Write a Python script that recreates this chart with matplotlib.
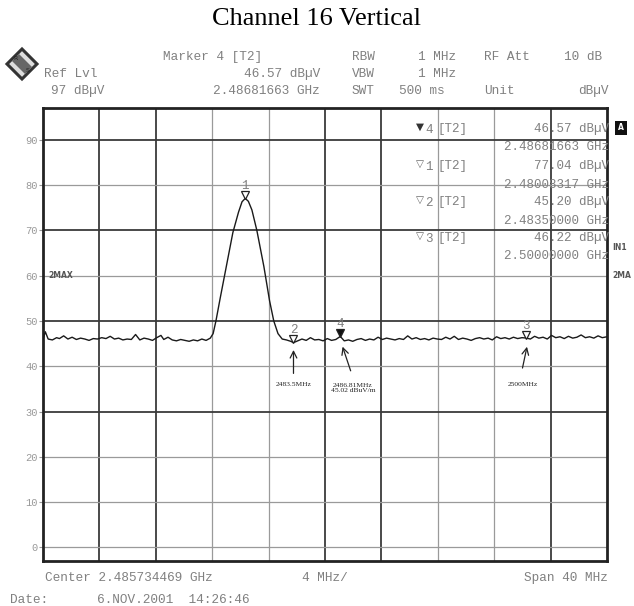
import numpy as np
import matplotlib
matplotlib.use("Agg")
import matplotlib.pyplot as plt
from matplotlib.patches import Polygon
from matplotlib import transforms

# Analyzer settings
center_mhz = 2485.734469
span_mhz = 40.0
ref_level = 97
y_ticks = [0, 10, 20, 30, 40, 50, 60, 70, 80, 90]

# Trace (MHz, dBuV)
trace_freq_mhz = [
    2465.73, 2465.9, 2466.1, 2466.4, 2466.7, 2466.9, 2467.2, 2467.5, 2467.8, 2468.1,
    2468.4, 2468.7, 2469.0, 2469.3, 2469.6, 2469.9, 2470.2, 2470.5, 2470.8, 2471.1,
    2471.4, 2471.7, 2472.0, 2472.3, 2472.6, 2472.9, 2473.2, 2473.5, 2473.8, 2474.1,
    2474.3, 2474.6, 2474.9, 2475.2, 2475.5, 2475.8, 2476.1, 2476.4, 2476.7, 2477.0,
    2477.3, 2477.6, 2477.8, 2478.0, 2478.3, 2478.7, 2479.2, 2479.6, 2479.85, 2480.08,
    2480.3, 2480.55, 2480.9, 2481.4, 2481.8, 2482.1, 2482.4, 2482.7, 2483.0, 2483.3,
    2483.5, 2483.8, 2484.1, 2484.4, 2484.7, 2485.0, 2485.3, 2485.6, 2485.9, 2486.2,
    2486.5, 2486.82, 2487.1, 2487.4, 2487.7, 2488.0, 2488.3, 2488.6, 2488.9, 2489.2,
    2489.5, 2489.8, 2490.1, 2490.4, 2490.7, 2491.0, 2491.3, 2491.6, 2491.9, 2492.2,
    2492.5, 2492.8, 2493.1, 2493.4, 2493.7, 2494.0, 2494.3, 2494.6, 2494.9, 2495.2,
    2495.5, 2495.8, 2496.1, 2496.4, 2496.7, 2497.0, 2497.3, 2497.6, 2497.9, 2498.2,
    2498.5, 2498.8, 2499.1, 2499.4, 2499.7, 2500.0, 2500.3, 2500.6, 2500.9, 2501.2,
    2501.5, 2501.8, 2502.1, 2502.4, 2502.7, 2503.0, 2503.3, 2503.6, 2503.9, 2504.2,
    2504.5, 2504.8, 2505.1, 2505.4, 2505.73,
]
trace_level_dbuv = [
    45.9, 47.6, 46.0, 45.8, 46.3, 46.1, 46.7, 46.0, 46.4, 45.9,
    46.2, 46.0, 45.7, 46.1, 46.0, 46.3, 46.1, 46.6, 46.0, 46.2,
    45.8, 46.0, 45.9, 47.0, 45.8, 46.2, 46.0, 45.7, 46.3, 46.8,
    45.9, 46.4, 45.8, 45.6, 45.9, 45.7, 45.5, 45.8, 45.6, 46.0,
    45.7, 46.2, 47.2, 50.0, 55.0, 61.5, 69.5, 74.0, 76.3, 77.04,
    76.4, 74.5, 70.0, 62.0, 54.5, 50.0, 47.2, 46.0, 45.8, 45.5,
    45.2, 45.6, 46.0, 45.7, 46.3, 45.8, 45.9, 45.6, 46.1, 45.7,
    45.9, 46.57, 45.6, 45.8, 45.5, 45.9, 46.1, 45.7, 46.0, 45.8,
    46.4, 45.9, 46.2, 46.0, 45.8, 46.1, 45.9, 46.7, 46.0, 46.3,
    45.9, 46.1, 45.8, 46.2, 46.0, 45.9, 46.4, 46.0, 46.6, 45.9,
    46.2, 46.0, 45.7, 46.1, 46.3, 46.0, 46.2, 45.8, 46.5, 46.1,
    46.3, 46.0, 46.4, 46.1, 46.3, 46.22, 46.0, 46.6, 46.2, 46.4,
    46.0, 46.8, 46.3, 46.5, 46.1, 46.6, 46.2, 46.4, 46.9, 46.3,
    46.5, 46.2, 46.7, 46.3, 46.5,
]

# Markers
marker_ids = ["1", "2", "3", "4"]
marker_freq_mhz = [2480.08317, 2483.5, 2500.0, 2486.81663]
marker_level_dbuv = [77.04, 45.20, 46.22, 46.57]

W, H = 634, 606
GRAY = "#808080"
MONO = "Liberation Mono"


def px(x, y):
    return x / W, 1 - y / H


fig = plt.figure(figsize=(W / 100, H / 100), dpi=100)
ax = fig.add_axes([43 / W, (H - 561) / H, (607 - 43) / W, (561 - 108) / H])

f_start = center_mhz - span_mhz / 2
ax.set_xlim(f_start, f_start + span_mhz)
ax.set_ylim(ref_level - 100, ref_level)

# grid: the scanned screen shows a mix of dark and light lines
v_dark = [1, 2, 5, 6, 9]
for i in range(1, 10):
    dark = i in v_dark
    ax.axvline(f_start + i * span_mhz / 10, color="#3a3a3a" if dark else "#9a9a9a",
               lw=1.3 if dark else 0.9, zorder=1)
h_dark = [90, 70, 50, 30]
for yv in y_ticks:
    dark = yv in h_dark
    ax.axhline(yv, color="#3a3a3a" if dark else "#9a9a9a",
               lw=1.3 if dark else 0.9, zorder=1)

ax.plot(trace_freq_mhz, trace_level_dbuv, color="#1a1a1a", lw=1.0, zorder=3)

for s in ax.spines.values():
    s.set_linewidth(2.0)
    s.set_color("#222222")
ax.set_xticks([])
ax.set_yticks(y_ticks)
ax.set_yticklabels([str(v) for v in y_ticks], fontsize=7.5, color="#999999", family=MONO)
ax.tick_params(axis="y", length=3, width=0.8, color="#999999", pad=1)

# marker triangles
tri_off = transforms.offset_copy(ax.transData, fig=fig, y=2.5, units="points")
num_off = transforms.offset_copy(ax.transData, fig=fig, y=9, units="points")
for mid, f, lvl in zip(marker_ids, marker_freq_mhz, marker_level_dbuv):
    filled = mid == "4"
    ax.plot([f], [lvl], marker="v", ms=5.5, mfc="#111111" if filled else "white",
            mec="#222222", mew=0.9, transform=tri_off, zorder=4, clip_on=False)
    ax.text(f, lvl, mid, transform=num_off, ha="center", va="center",
            fontsize=9, color=GRAY, family=MONO, zorder=4)

# hand-drawn arrows and notes under markers 2, 4, 3
notes = {
    "2": ((0.0, 44.2), (0.0, 37.8), (0.0, 36.6), "2483.5MHz"),
    "4": ((0.1, 44.9), (0.8, 38.4), (0.9, 36.2), "2486.81MHz\n45.02 dBuV/m"),
    "3": ((0.1, 44.9), (-0.3, 39.0), (-0.25, 36.5), "2500MHz"),
}
for mid, f in zip(marker_ids, marker_freq_mhz):
    if mid not in notes:
        continue
    (dxt, yt), (dxs, ys), (dxl, yl), label = notes[mid]
    ax.annotate("", xy=(f + dxt, yt), xytext=(f + dxs, ys),
                arrowprops=dict(arrowstyle="->", lw=0.9, color="#222222",
                                mutation_scale=12), zorder=5)
    ax.text(f + dxl, yl, label, ha="center", va="top", fontsize=5.4,
            family="Liberation Serif", color="#222222", linespacing=1.0)

# marker table inside the screen
table_rows = [
    ("▼", "4", "46.57 dBµV", "2.48681663 GHz", 129),
    ("▽", "1", "77.04 dBµV", "2.48008317 GHz", 166),
    ("▽", "2", "45.20 dBµV", "2.48350000 GHz", 202),
    ("▽", "3", "46.22 dBµV", "2.50000000 GHz", 238),
]
for sym, num, lvl_txt, f_txt, yy in table_rows:
    fig.text(*px(420, yy - 2), sym, fontsize=7.5, color="#333333" if sym == "▼" else "#666666",
             ha="center", va="center", family="DejaVu Sans")
    fig.text(*px(425, yy + 1), num, fontsize=9, color=GRAY, ha="left", va="center", family=MONO)
    fig.text(*px(437, yy), "[T2]", fontsize=9, color=GRAY, ha="left", va="center", family=MONO)
    fig.text(*px(609, yy), lvl_txt, fontsize=9, color=GRAY, ha="right", va="center", family=MONO)
    fig.text(*px(609, yy + 18.5), f_txt, fontsize=9, color=GRAY, ha="right", va="center", family=MONO)

# header
hdr = dict(fontsize=9.2, color=GRAY, family=MONO, va="center")
fig.text(*px(163, 57), "Marker 4 [T2]", ha="left", **hdr)
fig.text(*px(44, 74), "Ref Lvl", ha="left", **hdr)
fig.text(*px(320, 74), "46.57 dBµV", ha="right", **hdr)
fig.text(*px(51, 91), "97 dBµV", ha="left", **hdr)
fig.text(*px(320, 91), "2.48681663 GHz", ha="right", **hdr)
fig.text(*px(352, 57), "RBW", ha="left", **hdr)
fig.text(*px(352, 74), "VBW", ha="left", **hdr)
fig.text(*px(352, 91), "SWT", ha="left", **hdr)
fig.text(*px(456, 57), "1 MHz", ha="right", **hdr)
fig.text(*px(456, 74), "1 MHz", ha="right", **hdr)
fig.text(*px(399, 91), "500 ms", ha="left", **hdr)
fig.text(*px(484, 57), "RF Att", ha="left", **hdr)
fig.text(*px(602, 57), "10 dB", ha="right", **hdr)
fig.text(*px(484, 91), "Unit", ha="left", **hdr)
fig.text(*px(609, 91), "dBµV", ha="right", **hdr)

# footer
fig.text(*px(45, 578), "Center 2.485734469 GHz", ha="left", **hdr)
fig.text(*px(302, 578), "4 MHz/", ha="left", **hdr)
fig.text(*px(608, 578), "Span 40 MHz", ha="right", **hdr)
fig.text(*px(10, 600), "Date:", ha="left", **hdr)
fig.text(*px(97, 600), "6.NOV.2001  14:26:46", ha="left", **hdr)

# side labels
fig.text(*px(48, 275), "2MAX", fontsize=5.5, color="#555555", weight="bold", va="center")
fig.text(*px(612, 247), "IN1", fontsize=5.5, color="#555555", weight="bold", va="center")
fig.text(*px(612, 275), "2MA", fontsize=5.5, color="#555555", weight="bold", va="center")
fig.text(*px(621, 128), "A", fontsize=5.5, color="white", weight="bold", ha="center", va="center",
         bbox=dict(boxstyle="square,pad=0.35", fc="#111111", ec="none"))

# logo
cx, cy, r = 22, 64, 15
diamond = Polygon([px(cx, cy - r), px(cx + r, cy), px(cx, cy + r), px(cx - r, cy)],
                  closed=True, transform=fig.transFigure, fc="#dddddd", ec="#333333", lw=2.2)
fig.patches.append(diamond)
band = Polygon([px(cx - 10, cy - 3), px(cx - 3, cy - 10), px(cx + 10, cy + 3), px(cx + 3, cy + 10)],
               closed=True, transform=fig.transFigure, fc="#666666", ec="none")
fig.patches.append(band)
for lx, ly, ch in [(cx - 6, cy - 6, "R"), (cx + 6, cy + 6, "S")]:
    fig.text(*px(lx, ly), ch, fontsize=4.5, color="#222222", ha="center", va="center")

# title
fig.text(*px(317, 19), "Channel 16 Vertical", fontsize=19, family="Liberation Serif",
         ha="center", va="center", color="black")

fig.savefig("out.png", dpi=100, facecolor="white")
